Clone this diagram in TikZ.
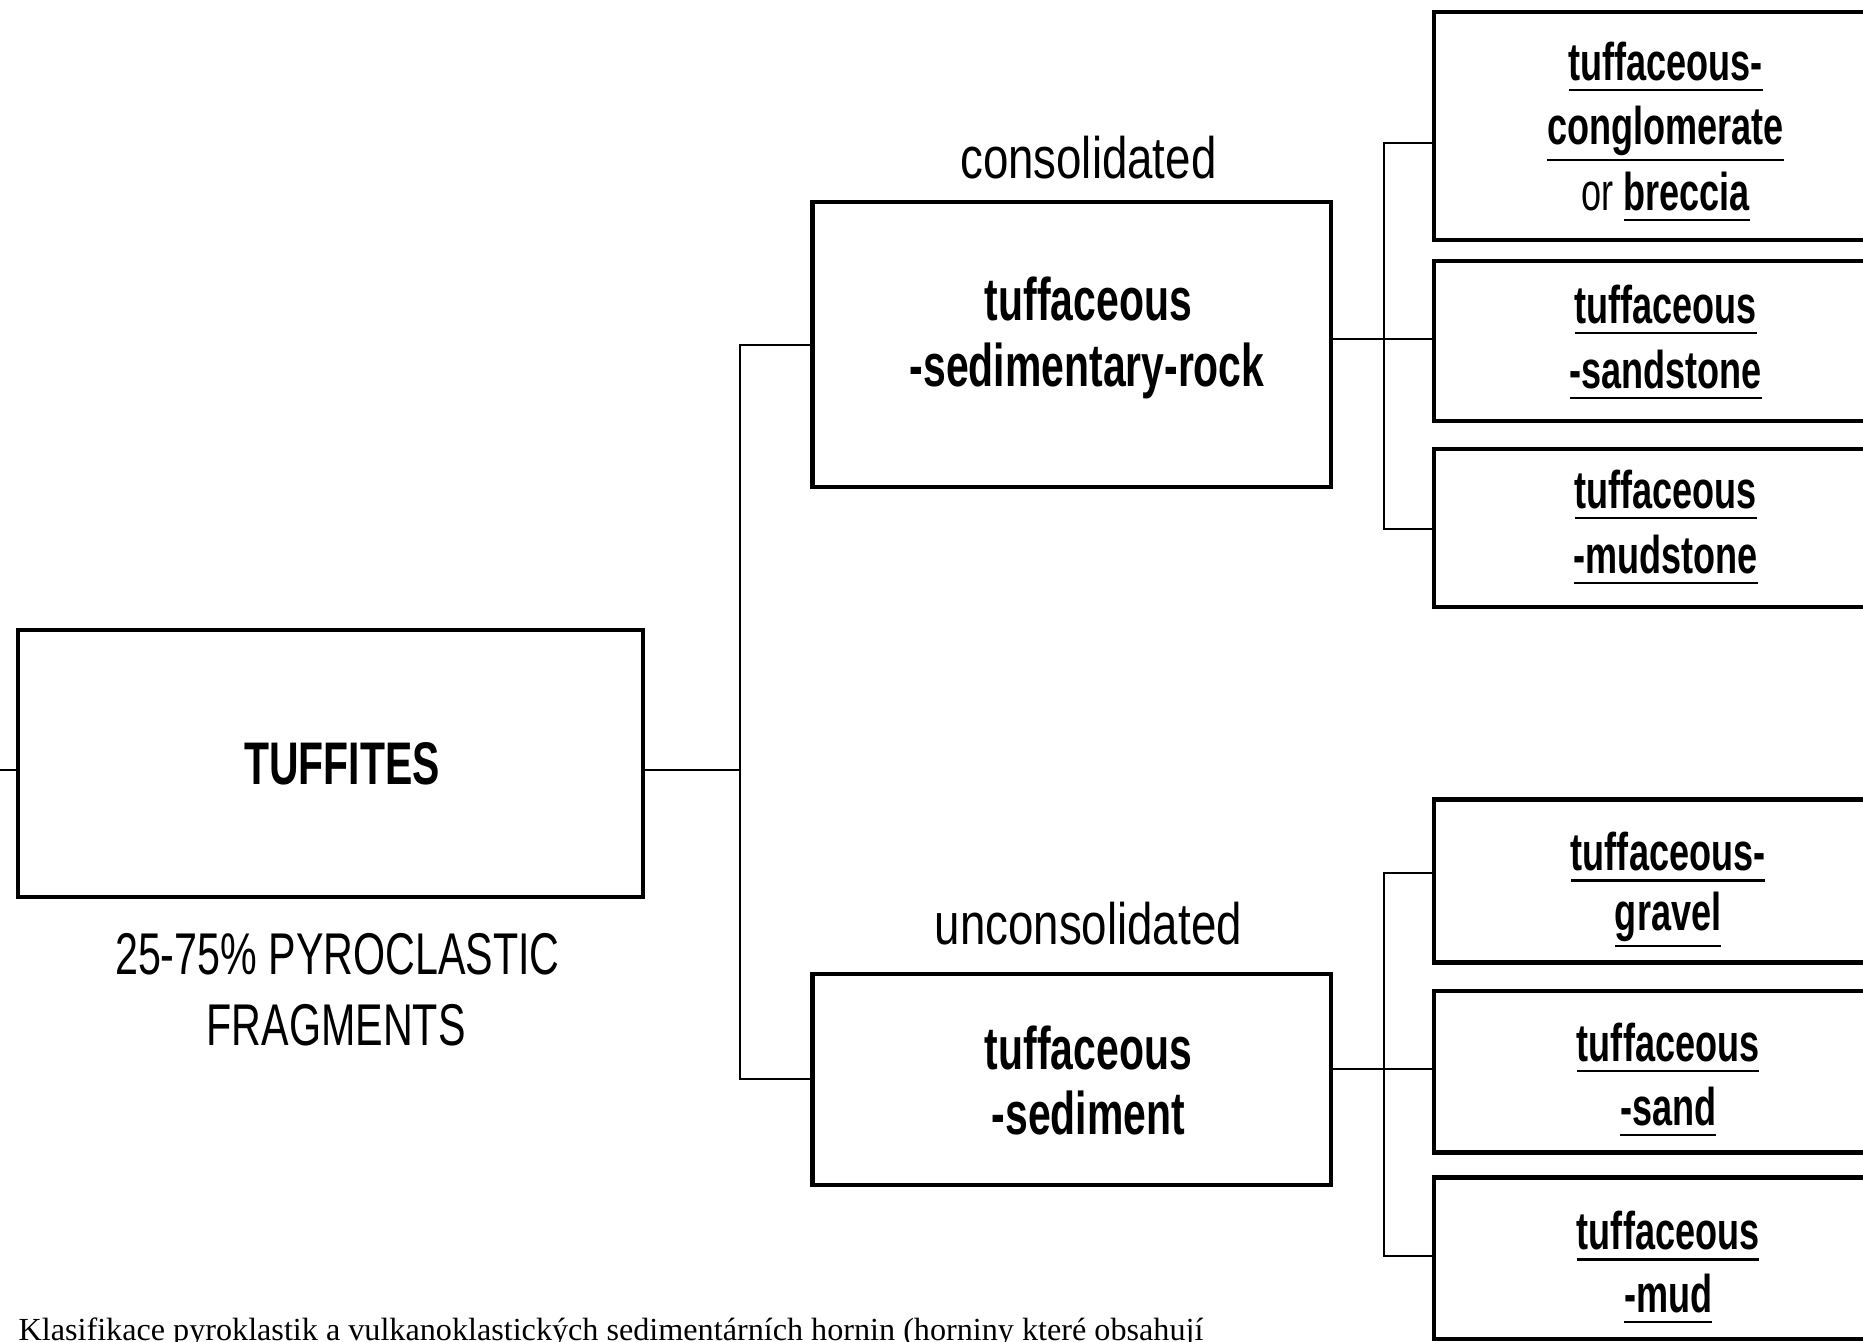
\documentclass[tikz,border=0pt]{standalone}
\usepackage{fontspec}
\setmainfont{Liberation Serif}
\newfontfamily\condbold[FakeStretch=0.68]{Liberation Sans}
\newfontfamily\condlabel[FakeStretch=0.78]{Liberation Sans}
\newfontfamily\condcaps[FakeStretch=0.70]{Liberation Sans}

% underline a word at a fixed gap below its baseline (or below its descenders)
\newcommand\ulword[1]{%
  \setbox0\hbox{#1}%
  \dimen0=\dp0 \ifdim\dimen0<0.1em \dimen0=0.1em\fi
  \advance\dimen0 by 0.06em
  \rlap{\rule[\dimexpr-\dimen0-0.5pt\relax]{\wd0}{0.5pt}}\box0}

\begin{document}
\begin{tikzpicture}[x=0.01cm,y=-0.01cm,
  box/.style={draw, line width=1pt, inner sep=0pt},
  wire/.style={line width=0.5pt},
  bigtxt/.style={inner sep=0pt, anchor=base, font=\condbold\bfseries\fontsize{14.4}{16}\selectfont},
  smalltxt/.style={inner sep=0pt, anchor=base, font=\condbold\bfseries\fontsize{12.7}{15}\selectfont},
  labeltxt/.style={inner sep=0pt, anchor=base, font=\condlabel\fontsize{14}{16}\selectfont},
  capstxt/.style={inner sep=0pt, anchor=base, font=\condcaps\fontsize{14.1}{16}\selectfont},
  captxt/.style={inner sep=0pt, anchor=base west, font=\fontsize{7.7}{9}\selectfont}]

\useasboundingbox (0,0) rectangle (1568,1129);
\clip (0,0) rectangle (1568,1129);

% ---- boxes ----
\node[box, minimum width=5.26cm, minimum height=2.25cm] (tuf) at (278,642.5) {};
\node[box, minimum width=4.36cm, minimum height=2.40cm] (con) at (902,290) {};
\node[box, minimum width=4.36cm, minimum height=1.77cm] (unc) at (902,908.5) {};

\node[box, minimum width=4cm, minimum height=1.92cm] (r1) at (1407,106) {};
\node[box, minimum width=4cm, minimum height=1.34cm] (r2) at (1407,287) {};
\node[box, minimum width=4cm, minimum height=1.33cm] (r3) at (1407,444.5) {};
\node[box, minimum width=4cm, minimum height=1.37cm] (u1) at (1407,741.5) {};
\node[box, minimum width=4cm, minimum height=1.36cm] (u2) at (1407,902) {};
\node[box, minimum width=4cm, minimum height=1.36cm] (u3) at (1407,1059) {};

% ---- texts ----
\node[bigtxt] (tufA) at (288,660) {TUFFITES};
\node[capstxt] (pctA) at (284,820) {25-75\% PYROCLASTIC};
\node[capstxt] (pctB) at (283,880) {FRAGMENTS};

\node[labeltxt] (conL) at (916,150) {consolidated};
\node[bigtxt] (conA) at (916,270) {tuffaceous};
\node[bigtxt] (conB) at (915,325) {-sedimentary-rock};

\node[labeltxt] (uncL) at (916,795) {unconsolidated};
\node[bigtxt] (uncA) at (916,900) {tuffaceous};
\node[bigtxt] (uncB) at (916,955) {-sediment};

\node[smalltxt] (r1a) at (1402,68) {\ulword{tuffaceous-}};
\node[smalltxt] (r1b) at (1402,122) {\ulword{conglomerate}};
\node[smalltxt] (r1c) at (1402,177) {{\mdseries or} \ulword{breccia}};
\node[smalltxt] (r2a) at (1402,272) {\ulword{tuffaceous}};
\node[smalltxt] (r2b) at (1402,327) {\ulword{-sandstone}};
\node[smalltxt] (r3a) at (1402,428) {\ulword{tuffaceous}};
\node[smalltxt] (r3b) at (1402,483) {\ulword{-mudstone}};
\node[smalltxt] (u1a) at (1404,733) {\ulword{tuffaceous-}};
\node[smalltxt] (u1b) at (1404,783) {\ulword{gravel}};
\node[smalltxt] (u2a) at (1404,893) {\ulword{tuffaceous}};
\node[smalltxt] (u2b) at (1404,947) {\ulword{-sand}};
\node[smalltxt] (u3a) at (1404,1052) {\ulword{tuffaceous}};
\node[smalltxt] (u3b) at (1404,1105) {\ulword{-mud}};

\node[captxt] (cap) at (15,1128) {Klasifikace pyroklastik a vulkanoklastických sedimentárních hornin (horniny které obsahují};

% ---- connectors ----
\coordinate (lend) at (0,648);
\coordinate (j0) at (623,648);
\draw[wire] (lend) -- (lend -| tuf.west);
\draw[wire] (tuf.east |- j0) -- (j0);
\draw[wire] (con.west) -| (j0) |- (unc.west);

\coordinate (ka) at (1165,120);
\coordinate (kb) at (1165,445);
\draw[wire] (r1.west |- ka) -- (ka) -- (kb) -- (r3.west |- kb);
\draw[wire] (con.east |- 0,285) -- (r2.west |- 0,285);

\coordinate (kc) at (1165,735);
\coordinate (kd) at (1165,1057);
\draw[wire] (u1.west |- kc) -- (kc) -- (kd) -- (u3.west |- kd);
\draw[wire] (unc.east |- 0,900) -- (u2.west |- 0,900);
\end{tikzpicture}
\end{document}
